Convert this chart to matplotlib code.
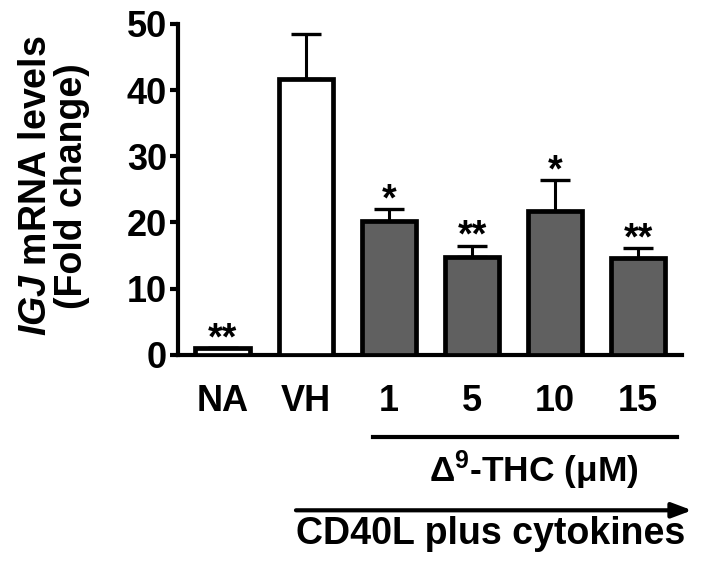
import matplotlib
matplotlib.use("Agg")
import matplotlib.pyplot as plt
import numpy as np

# values
groups = ["NA", "VH", "1", "5", "10", "15"]
means = [1.0, 41.6, 20.2, 14.8, 21.8, 14.7]
errs = [0.0, 6.9, 1.8, 1.7, 4.6, 1.4]
stars = ["**", "", "*", "**", "*", "**"]
fills = ["white", "white", "#606060", "#606060", "#606060", "#606060"]

plt.rcParams['font.family'] = ['Liberation Sans', 'DejaVu Sans']
plt.rcParams['font.weight'] = 'bold'
plt.rcParams['mathtext.fontset'] = 'custom'
plt.rcParams['mathtext.rm'] = 'Liberation Sans:bold'
plt.rcParams['mathtext.bf'] = 'Liberation Sans:bold'
plt.rcParams['mathtext.it'] = 'Liberation Sans:italic:bold'

fig = plt.figure(figsize=(7.01, 5.67), dpi=100)
ax = fig.add_axes([0.254, 0.374, 0.719, 0.584])

x = np.arange(len(groups))
ax.bar(x, means, width=0.66, color=fills, edgecolor="black", linewidth=3.4, zorder=3)
ax.errorbar(x, means, yerr=[np.zeros(len(errs)), errs], fmt="none", ecolor="black",
            elinewidth=2.2, capsize=11, capthick=2.4, zorder=2)

for xi, m, e, s in zip(x, means, errs, stars):
    if s:
        ax.annotate(s, (xi, m + e), xytext=(0, -6.5), textcoords="offset points",
                    ha="center", va="bottom", fontsize=27, fontweight="bold")

ax.set_xlim(-0.54, 5.53)
ax.set_ylim(0, 50)
ax.set_yticks([0, 10, 20, 30, 40, 50])
ax.set_xticks(x)
ax.set_xticklabels(groups)
ax.tick_params(axis="x", length=0, pad=21, labelsize=26)
ax.tick_params(axis="y", length=6, width=3, pad=2, labelsize=26)
for sp in ["top", "right"]:
    ax.spines[sp].set_visible(False)
for sp in ["left", "bottom"]:
    ax.spines[sp].set_linewidth(3)

ax.set_ylabel("$\\mathit{IGJ}$ mRNA levels\n(Fold change)", fontsize=27,
              fontweight="bold", linespacing=1.0)
ax.yaxis.set_label_coords(-0.175, 0.51)

# annotation lines below the axis
tr = matplotlib.transforms.blended_transform_factory(ax.transData, fig.transFigure)
ax.plot([1.81, 5.47], [0.229, 0.229], color="black", linewidth=3, transform=tr, clip_on=False)
ax.text(3.75, 0.171, "$\\Delta^{9}$-THC (μM)", transform=tr, ha="center", va="center",
        fontsize=25.5, fontweight="bold")
ax.annotate("", xy=(5.65, 0.1), xytext=(0.88, 0.1), xycoords=tr, textcoords=tr,
            arrowprops=dict(arrowstyle="-|>,head_length=1.2,head_width=0.45", color="black",
                            linewidth=3, shrinkA=0, shrinkB=0))
ax.text(0.88, 0.058, "CD40L plus cytokines", transform=tr, ha="left", va="center",
        fontsize=27, fontweight="bold")

fig.savefig("out.png", dpi=100)
